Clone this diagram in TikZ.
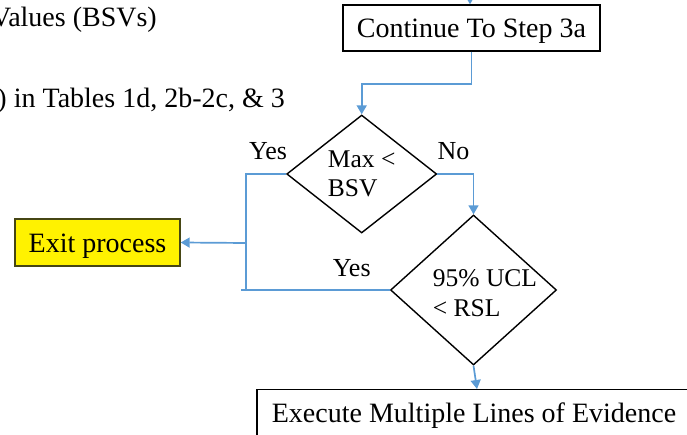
\documentclass[tikz,border=0pt]{standalone}
\usepackage{fontspec}
\setmainfont{Liberation Serif}
\usetikzlibrary{shapes.geometric,arrows.meta}

\definecolor{linkblue}{RGB}{91,155,213}
\definecolor{exitedge}{RGB}{70,70,20}

\tikzset{
  box/.style={draw, line width=1.4pt, inner sep=0pt, text height=20pt, text depth=0pt,
    font=\fontsize{28}{30}\selectfont},
  decision/.style={diamond, draw, line width=1.4pt, inner sep=0pt, align=left,
    font=\fontsize{25.5}{29.3}\selectfont},
  dtext/.style={inner sep=0pt, align=left, font=\fontsize{25.5}{29.3}\selectfont},
  answer/.style={inner sep=0pt, anchor=base, font=\fontsize{26}{28}\selectfont},
  note/.style={inner sep=0pt, anchor=base east, font=\fontsize{28}{30}\selectfont},
  link/.style={draw=linkblue, line width=1.7pt},
  flow/.style={link, -{Triangle[width=10pt,length=9pt]}},
}

\begin{document}
\begin{tikzpicture}[x=1pt, y=-1pt]
  \useasboundingbox (0,0) rectangle (687,435);
  \clip (0,0) rectangle (687,435);

  % text left of the chart
  \node[note] (bsv) at (157,27) {Values (BSVs)};
  \node[note] (tables) at (285,108) {) in Tables 1d, 2b-2c, \& 3};

  \node[box, minimum width=257pt, minimum height=46pt] (step) at (471.5,28) {Continue To Step 3a};
  \node[decision, minimum width=150pt, minimum height=118pt] (max) at (361.7,174) {Max <\\BSV};
  \node[decision, minimum width=166pt, minimum height=150pt] (ucl) at (473.5,290) {};
    \node[dtext] (ucltext) at (485,293) {95\% UCL\\< RSL};
  \node[box, fill=yellow, draw=exitedge, minimum width=165pt, minimum height=47pt] (exit) at (97.5,242.5) {Exit process};
  \node[box, text depth=4pt, minimum width=434pt, minimum height=50pt, anchor=north] (exec) at (474,389) {Execute Multiple Lines of Evidence};

  \node[answer] (yes1) at (268,160) {Yes};
  \node[answer] (no) at (453.5,160) {No};
  \node[answer] (yes2) at (351.7,276.7) {Yes};

  \coordinate (entry) at (470,-10);
  \coordinate (split) at (246,243);

  \draw[flow] (entry) -- (entry |- step.north);
  \draw[flow] (step.south) -- ++(0,32.3) -| (max.north);
  \draw[link] (max.west) -| (split) -- (split |- ucl.west);
  \draw[link] (ucl.west) -- ++(-149,0);
  \draw[flow] (split) -- (exit.east);
  \draw[flow] (max.east) -| (ucl.north);
  \draw[flow] (ucl.south) -- ([xshift=3pt]exec.north);
  %\draw[flow] (exec.south) -- ++(0,30);
\end{tikzpicture}
\end{document}
